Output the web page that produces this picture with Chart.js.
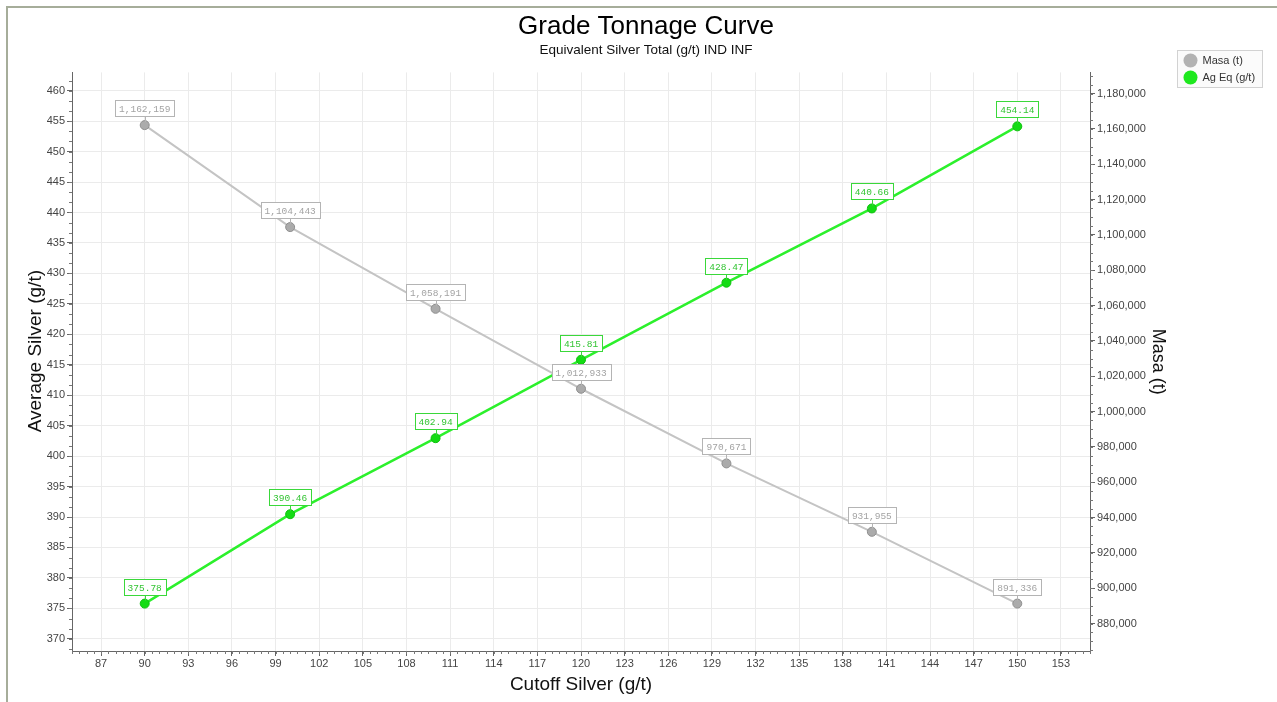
<!DOCTYPE html>
<html>
<head>
<meta charset="utf-8">
<title>Grade Tonnage Curve</title>
<script src="https://cdn.jsdelivr.net/npm/chart.js@4.4.1/dist/chart.umd.min.js"></script>
<style>
  html, body { margin: 0; padding: 0; background: #ffffff; }
  canvas { display: block; }
</style>
</head>
<body>
<canvas id="chart" width="1277" height="702"></canvas>
<script>
// Cutoff grades (g/t) and the resulting tonnage / average grade
const cutoff = [90, 100, 110, 120, 130, 140, 150];
const masa = [1162159, 1104443, 1058191, 1012933, 970671, 931955, 891336];
const agEq = [375.78, 390.46, 402.94, 415.81, 428.47, 440.66, 454.14];

// Axis tick labels
const xTicks = [87, 90, 93, 96, 99, 102, 105, 108, 111, 114, 117, 120, 123, 126, 129, 132, 135, 138, 141, 144, 147, 150, 153];
const gradeTicks = [370, 375, 380, 385, 390, 395, 400, 405, 410, 415, 420, 425, 430, 435, 440, 445, 450, 455, 460];
const masaTicks = [880000, 900000, 920000, 940000, 960000, 980000, 1000000, 1020000, 1040000, 1060000, 1080000, 1100000, 1120000, 1140000, 1160000, 1180000];

const SANS = '"Liberation Sans", Arial, sans-serif';
const MONO = '"Liberation Mono", "DejaVu Sans Mono", monospace';

const fmtMasa = v => v.toLocaleString('en-US');
const fmtGrade = v => v.toFixed(2);

function setTicks(values) {
  return scale => { scale.ticks = values.map(v => ({ value: v })); };
}

// Small ticks between the labelled ones
const minorTicks = {
  id: 'minorTicks',
  afterDraw(chart) {
    const ctx = chart.ctx;
    const { x, y, y1 } = chart.scales;
    const area = chart.chartArea;
    ctx.save();
    ctx.strokeStyle = '#777';
    ctx.lineWidth = 1;
    ctx.beginPath();
    for (let v = 85; v <= 155 + 1e-9; v += 0.5) {
      const px = Math.round(x.getPixelForValue(v)) + 0.5;
      ctx.moveTo(px, area.bottom);
      ctx.lineTo(px, area.bottom + 3);
    }
    for (let v = 365; v <= 463; v += 5 / 3) {
      if (v < y.min || v > y.max) continue;
      const py = Math.round(y.getPixelForValue(v)) + 0.5;
      ctx.moveTo(area.left, py);
      ctx.lineTo(area.left - 3, py);
    }
    for (let v = 865000; v <= 1192000; v += 5000) {
      if (v < y1.min || v > y1.max) continue;
      const py = Math.round(y1.getPixelForValue(v)) + 0.5;
      ctx.moveTo(area.right, py);
      ctx.lineTo(area.right + 3, py);
    }
    ctx.stroke();
    ctx.restore();
  }
};

// Boxed value labels above each point
const valueLabels = {
  id: 'valueLabels',
  afterDatasetsDraw(chart) {
    const ctx = chart.ctx;
    ctx.save();
    ctx.font = '9.5px ' + MONO;
    ctx.textAlign = 'center';
    ctx.textBaseline = 'middle';
    chart.data.datasets.forEach((ds, di) => {
      const meta = chart.getDatasetMeta(di);
      meta.data.forEach((pt, i) => {
        const text = ds.labelFormat(ds.data[i].y);
        const w = Math.round(ctx.measureText(text).width) + 8;
        const h = 16;
        const bx = Math.round(pt.x - w / 2) + 0.5;
        const by = Math.round(pt.y - 9 - h) + 0.5;
        ctx.strokeStyle = ds.labelBorder;
        ctx.lineWidth = 1;
        ctx.beginPath();
        ctx.moveTo(Math.round(pt.x) + 0.5, by + h);
        ctx.lineTo(Math.round(pt.x) + 0.5, pt.y - 3);
        ctx.stroke();
        ctx.fillStyle = '#ffffff';
        ctx.fillRect(bx, by, w, h);
        ctx.strokeRect(bx, by, w, h);
        ctx.fillStyle = ds.labelColor;
        ctx.fillText(text, pt.x, by + h / 2 + 0.5);
      });
    });
    ctx.restore();
  }
};

// Legend box, outer frame
const decorations = {
  id: 'decorations',
  afterDraw(chart) {
    const ctx = chart.ctx;
    ctx.save();
    ctx.strokeStyle = '#a6ad9a';
    ctx.lineWidth = 2;
    ctx.beginPath();
    ctx.moveTo(7, 702);
    ctx.lineTo(7, 7);
    ctx.lineTo(1277, 7);
    ctx.stroke();

    const lx = 1177.5, ly = 50.5, lw = 85, lh = 37;
    ctx.fillStyle = '#fbfbfb';
    ctx.fillRect(lx, ly, lw, lh);
    ctx.strokeStyle = '#d2d2d2';
    ctx.lineWidth = 1;
    ctx.strokeRect(lx, ly, lw, lh);
    ctx.font = '11px ' + SANS;
    ctx.textAlign = 'left';
    ctx.textBaseline = 'middle';
    chart.data.datasets.forEach((ds, i) => {
      const cy = ly + 10 + i * 17;
      ctx.beginPath();
      ctx.arc(lx + 13, cy, 7, 0, Math.PI * 2);
      ctx.fillStyle = ds.legendColor;
      ctx.fill();
      ctx.fillStyle = '#333333';
      ctx.fillText(ds.label, lx + 25, cy);
    });
    ctx.restore();
  }
};

const ctx = document.getElementById('chart').getContext('2d');
new Chart(ctx, {
  type: 'line',
  data: {
    datasets: [
      {
        label: 'Masa (t)',
        data: cutoff.map((c, i) => ({ x: c, y: masa[i] })),
        yAxisID: 'y1',
        order: 1,
        borderColor: '#c4c4c4',
        borderWidth: 2,
        pointRadius: 4.5,
        pointBackgroundColor: '#ababab',
        pointBorderColor: '#8f8f8f',
        pointBorderWidth: 1,
        tension: 0,
        labelFormat: fmtMasa,
        labelColor: '#a3a3a3',
        labelBorder: '#b4b4b4',
        legendColor: '#b3b3b3'
      },
      {
        label: 'Ag Eq (g/t)',
        data: cutoff.map((c, i) => ({ x: c, y: agEq[i] })),
        yAxisID: 'y',
        order: 0,
        borderColor: '#2cf02c',
        borderWidth: 2.5,
        pointRadius: 4.5,
        pointBackgroundColor: '#14dc14',
        pointBorderColor: '#10c010',
        pointBorderWidth: 1,
        tension: 0,
        labelFormat: fmtGrade,
        labelColor: '#33c433',
        labelBorder: '#3ad83a',
        legendColor: '#1ee81e'
      }
    ]
  },
  options: {
    responsive: false,
    animation: false,
    devicePixelRatio: 1,
    layout: { padding: { left: 15, right: 0, top: 0, bottom: 6 } },
    plugins: {
      legend: { display: false },
      tooltip: { enabled: false },
      title: {
        display: true,
        text: 'Grade Tonnage Curve',
        color: '#000000',
        font: { family: SANS, size: 26, weight: 'normal' },
        padding: { top: 11, bottom: 0 }
      },
      subtitle: {
        display: true,
        text: 'Equivalent Silver Total (g/t) IND INF',
        color: '#111111',
        font: { family: SANS, size: 13.5, weight: 'normal' },
        padding: { top: 0, bottom: 14 }
      }
    },
    scales: {
      x: {
        type: 'linear',
        min: 85,
        max: 155,
        afterBuildTicks: setTicks(xTicks),
        afterFit: s => { s.height = 45; },
        grid: { color: '#ebebeb', tickColor: '#666', tickLength: 5, drawTicks: true },
        border: { color: '#666', width: 1 },
        ticks: { color: '#444', font: { family: SANS, size: 11 }, padding: 1, maxRotation: 0, autoSkip: false },
        title: {
          display: true,
          text: 'Cutoff Silver (g/t)',
          color: '#111',
          font: { family: SANS, size: 19 },
          padding: { top: 0, bottom: 0 }
        }
      },
      y: {
        type: 'linear',
        position: 'left',
        min: 368,
        max: 463,
        afterBuildTicks: setTicks(gradeTicks),
        afterFit: s => { s.width = 57; },
        grid: { color: '#ebebeb', tickColor: '#666', tickLength: 5, drawTicks: true },
        border: { color: '#666', width: 1 },
        ticks: { color: '#444', font: { family: SANS, size: 11 }, padding: 2, autoSkip: false },
        title: {
          display: true,
          text: '    Average Silver (g/t)',
          color: '#111',
          font: { family: SANS, size: 19 },
          padding: { top: 9, bottom: 0 }
        }
      },
      y1: {
        type: 'linear',
        position: 'right',
        min: 864500,
        max: 1192000,
        afterBuildTicks: setTicks(masaTicks),
        afterFit: s => { s.width = 187; },
        grid: { drawOnChartArea: false, tickColor: '#666', tickLength: 5, drawTicks: true },
        border: { color: '#666', width: 1 },
        ticks: {
          color: '#444',
          font: { family: SANS, size: 11 },
          padding: 2,
          autoSkip: false,
          callback: v => fmtMasa(v)
        },
        title: {
          display: true,
          text: 'Masa (t)',
          color: '#111',
          font: { family: SANS, size: 18 },
          padding: { top: 108, bottom: 0 }
        }
      }
    }
  },
  plugins: [minorTicks, valueLabels, decorations]
});
</script>
</body>
</html>
